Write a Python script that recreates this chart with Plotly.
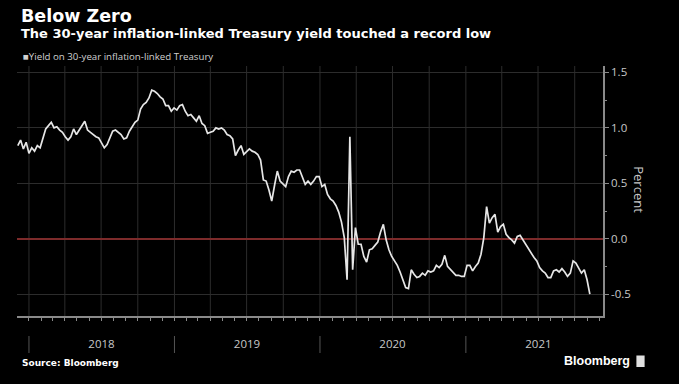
import pandas as pd
import plotly.graph_objects as go

# ---- data (weekly readings of the 30-year TIPS yield, percent) ----
start_date = "2017-12-04"
yield_values = [
    0.84, 0.89, 0.81, 0.87, 0.77, 0.82, 0.79, 0.84, 0.82, 0.91,
    0.99, 1.02, 1.05, 1.00, 1.01, 0.98, 0.96, 0.92, 0.89, 0.92,
    0.99, 0.94, 0.98, 1.01, 1.06, 0.98, 0.96, 0.94, 0.92, 0.91,
    0.86, 0.82, 0.85, 0.91, 0.97, 0.98, 0.96, 0.94, 0.90, 0.91,
    0.97, 1.01, 1.05, 1.07, 1.17, 1.21, 1.23, 1.27, 1.34, 1.33,
    1.31, 1.28, 1.26, 1.20, 1.20, 1.15, 1.18, 1.16, 1.20, 1.21,
    1.15, 1.11, 1.12, 1.09, 1.06, 1.11, 1.04, 1.02, 0.95, 0.96,
    0.97, 1.00, 0.99, 1.00, 0.98, 0.94, 0.93, 0.90, 0.75, 0.80,
    0.84, 0.76, 0.79, 0.81, 0.79, 0.78, 0.76, 0.71, 0.53, 0.52,
    0.44, 0.34, 0.48, 0.61, 0.52, 0.49, 0.47, 0.56, 0.61, 0.60,
    0.62, 0.62, 0.56, 0.49, 0.52, 0.49, 0.52, 0.56, 0.56, 0.47,
    0.49, 0.40, 0.36, 0.34, 0.30, 0.24, 0.15, 0.01, -0.37, 0.92,
    -0.28, 0.10, -0.05, -0.05, -0.16, -0.21, -0.10, -0.09, -0.06, -0.03,
    0.06, 0.13, -0.01, -0.10, -0.16, -0.20, -0.24, -0.30, -0.37, -0.44,
    -0.45, -0.28, -0.32, -0.35, -0.34, -0.31, -0.33, -0.29, -0.30, -0.29,
    -0.24, -0.26, -0.23, -0.15, -0.25, -0.28, -0.30, -0.33, -0.33, -0.34,
    -0.34, -0.24, -0.24, -0.29, -0.25, -0.22, -0.14, 0.01, 0.29, 0.14,
    0.19, 0.22, 0.06, 0.11, 0.13, 0.04, 0.01, -0.01, -0.04, 0.02,
    0.03, -0.01, -0.05, -0.10, -0.14, -0.17, -0.20, -0.26, -0.29, -0.31,
    -0.35, -0.35, -0.29, -0.28, -0.30, -0.27, -0.30, -0.34, -0.31, -0.20,
    -0.22, -0.26, -0.31, -0.28, -0.37, -0.50,
]
dates = pd.date_range(start_date, periods=len(yield_values), freq="7D")

year_labels = ["2018", "2019", "2020", "2021"]
year_label_dates = ["2018-07-02", "2019-07-02", "2020-07-01", "2021-07-02"]
year_starts = ["2018-01-01", "2019-01-01", "2020-01-01", "2021-01-01"]
quarter_starts = pd.date_range("2018-01-01", "2021-10-01", freq="QS")
y_tick_vals = [-0.5, 0.0, 0.5, 1.0, 1.5]
y_tick_text = ["-0.5", "0.0", "0.5", "1.0", "1.5"]

x_range = ["2017-12-02", "2021-12-11"]
y_range = [-0.697, 1.558]

AXIS = "#8a8a8a"
GRID = "#2c2c2c"
TXT = "#c8c8c8"

fig = go.Figure()
fig.add_trace(go.Scatter(
    x=dates, y=yield_values, mode="lines",
    line=dict(color="#e6e6e6", width=1.7),
    showlegend=False, hoverinfo="skip",
))

shapes = []
for q in quarter_starts:
    shapes.append(dict(type="line", xref="x", yref="paper", x0=q, x1=q, y0=0, y1=1,
                       line=dict(color=GRID, width=1), layer="below"))
for ys in year_starts:
    shapes.append(dict(type="line", xref="x", yref="paper", x0=ys, x1=ys, y0=-0.08, y1=-0.148,
                       line=dict(color="#555555", width=1)))
# small logo box next to "Bloomberg"
shapes.append(dict(type="rect", xref="paper", yref="paper", x0=1.057, x1=1.071, y0=-0.204, y1=-0.158,
                   fillcolor="#e0e0e0", line=dict(width=0)))

fig.update_layout(
    width=679, height=384,
    paper_bgcolor="black", plot_bgcolor="black",
    margin=dict(l=17, r=76, t=66, b=68),
    shapes=shapes,
    xaxis=dict(
        type="date", range=x_range,
        tickmode="array", tickvals=year_label_dates, ticktext=year_labels,
        ticks="", ticklabelstandoff=16,
        tickfont=dict(family="Open Sans", size=11.5, color=TXT),
        showgrid=False, zeroline=False,
        showline=True, linecolor=AXIS, linewidth=1.5,
        minor=dict(tickmode="linear", tick0="2018-01-01", dtick="M1",
                   ticks="outside", ticklen=3, tickcolor=AXIS, showgrid=False),
    ),
    yaxis=dict(
        side="right", range=y_range,
        tickmode="array", tickvals=y_tick_vals, ticktext=y_tick_text,
        ticks="outside", ticklen=4, tickcolor=AXIS,
        tickfont=dict(family="Open Sans", size=11.5, color=TXT),
        showgrid=True, gridcolor=GRID, gridwidth=1,
        zeroline=True, zerolinecolor="#7d2b2b", zerolinewidth=1.5,
        showline=True, linecolor=AXIS, linewidth=1.5,
        minor=dict(tickmode="linear", tick0=0, dtick=0.25, ticks="outside",
                   ticklen=2, tickcolor=AXIS, showgrid=False),
    ),
    annotations=[
        dict(text="<b>Below Zero</b>", xref="paper", yref="paper", x=0.004, y=1.152,
             xanchor="left", yanchor="bottom", showarrow=False,
             font=dict(family="DejaVu Sans", size=17.5, color="white")),
        dict(text="<b>The 30-year inflation-linked Treasury yield touched a record low</b>",
             xref="paper", yref="paper", x=0.004, y=1.168,
             xanchor="left", yanchor="top", showarrow=False,
             font=dict(family="DejaVu Sans", size=13, color="white")),
        dict(text="■Yield on 30-year inflation-linked Treasury", xref="paper", yref="paper",
             x=0.007, y=1.036, xanchor="left", yanchor="middle", showarrow=False,
             font=dict(family="Open Sans", size=9.7, color="#d0d0d0")),
        dict(text="Percent", xref="paper", yref="paper", x=1.061, y=0.504,
             xanchor="center", yanchor="middle", textangle=90, showarrow=False,
             font=dict(family="Open Sans", size=13, color=TXT)),
        dict(text="<b>Source: Bloomberg</b>", xref="paper", yref="paper", x=0.005, y=-0.186,
             xanchor="left", yanchor="middle", showarrow=False,
             font=dict(family="DejaVu Sans", size=9, color="white")),
        dict(text="<b>Bloomberg</b>", xref="paper", yref="paper", x=1.049, y=-0.18,
             xanchor="right", yanchor="middle", showarrow=False,
             font=dict(family="Liberation Sans", size=12.5, color="white")),
    ],
)

fig.write_html(
    "out.html",
    config={"displayModeBar": False},
    post_script="document.body.style.margin='0';document.body.style.background='black';",
)
